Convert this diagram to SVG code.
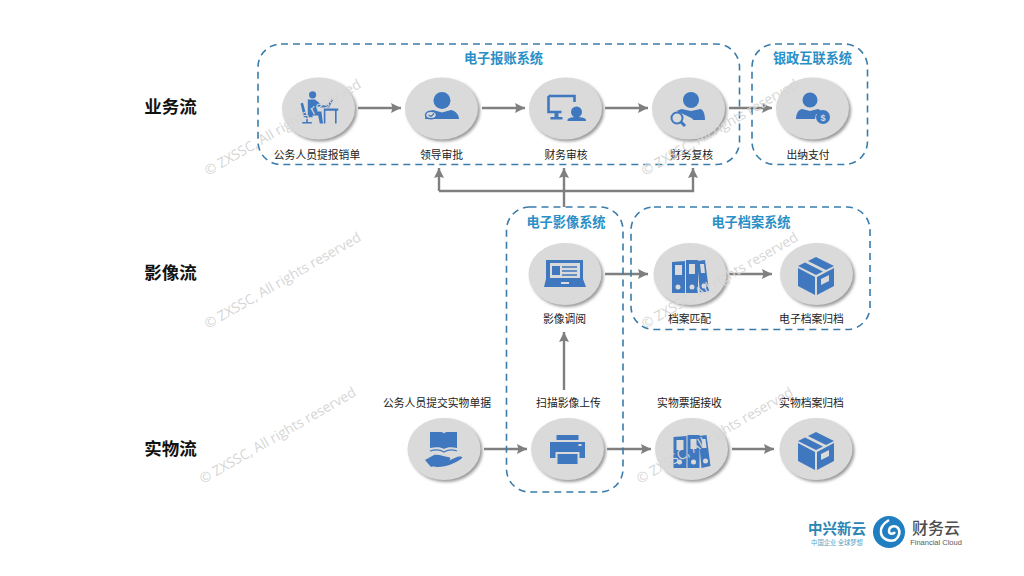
<svg xmlns="http://www.w3.org/2000/svg" xmlns:xlink="http://www.w3.org/1999/xlink" width="1024" height="576" viewBox="0 0 1024 576">
<style>
text{font-family:"Noto Sans CJK SC","Noto Sans",sans-serif;text-anchor:middle}
.lane{font-size:17.500px;font-weight:700;fill:#111}
.lab{font-size:10.800px;fill:#222}
.sys{font-size:13.200px;font-weight:700;fill:#2a8fc6}
.box{fill:none;stroke:#3a7cac;stroke-width:1.600;stroke-dasharray:7 5}
.con{fill:none;stroke:#7f7f7f;stroke-width:2.400}
.disc{fill:#dadada}
.sh{fill:#9a9a9a;filter:url(#blur)}
.ic{fill:#3f78bf}
.icw{fill:#dadada}
.icl{fill:none;stroke:#3f78bf}
.wm{font-family:"Open Sans",sans-serif;font-size:13.800px;fill:#d6d6d6;text-anchor:start}
</style>
<defs>
<filter id="blur" x="-20%" y="-20%" width="140%" height="140%"><feGaussianBlur stdDeviation="1.600"/></filter>
<marker id="ah" markerUnits="userSpaceOnUse" markerWidth="12" markerHeight="12" refX="10" refY="5" orient="auto"><path d="M0 0L10 5L0 10L1.500 5Z" fill="#7f7f7f"/></marker>
<g id="disc"><ellipse class="sh" cx="2" cy="2" rx="36.500" ry="31"/><ellipse class="disc" rx="36.500" ry="31"/></g>
<g id="binders">
<path class="ic" d="M-18-14L-5-15V17H-18ZM-4-16H8V17H-4ZM7-15L15-16L19 15L10 17Z"/>
<path class="icw" d="M-15-11H-8V-1H-15ZM-1-12H5V-2H-1ZM10-12L14-12L15-3L11-3Z"/>
<circle class="icw" cx="-12" cy="11" r="2.500"/><circle class="icw" cx="2" cy="11" r="2.500"/><circle class="icw" cx="14" cy="10" r="2.500"/>
</g>
<g id="box">
<path class="ic" d="M0-19L18-10L10-6L-8-15ZM-11-13.500L7-4.500L0-1L-18-10Z"/>
<path class="ic" d="M-18-8L-1 1V19L-18 10Z"/>
<path class="ic" d="M1 1L18-8V10L1 19Z"/>
<path class="icw" d="M5 3L13-1V5L5 9Z"/>
</g>
</defs>

<g id="connectors">
<path class="con" marker-end="url(#ah)" d="M358 108H401"/>
<path class="con" marker-end="url(#ah)" d="M482 108H525"/>
<path class="con" marker-end="url(#ah)" d="M605 108H648"/>
<path class="con" marker-end="url(#ah)" d="M729 108H772"/>
<path class="con" marker-end="url(#ah)" d="M439 191V168"/>
<path class="con" marker-end="url(#ah)" d="M564 207V168"/>
<path class="con" marker-end="url(#ah)" d="M439 191H693V168"/>
<path class="con" marker-end="url(#ah)" d="M605 274H648"/>
<path class="con" marker-end="url(#ah)" d="M729 274H772"/>
<path class="con" marker-end="url(#ah)" d="M564 390V332"/>
<path class="con" marker-end="url(#ah)" d="M484 449H527"/>
<path class="con" marker-end="url(#ah)" d="M607 449H651"/>
<path class="con" marker-end="url(#ah)" d="M732 449H774"/>
</g>

<g id="lanes">
<text class="lane" x="170.500" y="113">业务流</text>
<text class="lane" x="170.500" y="279">影像流</text>
<text class="lane" x="170.500" y="455">实物流</text>
</g>

<g id="sys-expense"><rect class="box" x="258" y="44" width="481.500" height="120.500" rx="23"/><text class="sys" x="503.500" y="63">电子报账系统</text></g>
<g id="sys-bank"><rect class="box" x="752" y="44" width="115.500" height="120.500" rx="23"/><text class="sys" x="812.500" y="63">银政互联系统</text></g>
<g id="sys-image"><rect class="box" x="506.500" y="207" width="116.500" height="285" rx="23"/><text class="sys" x="566" y="227">电子影像系统</text></g>
<g id="sys-archive"><rect class="box" x="631" y="207" width="239" height="122.500" rx="23"/><text class="sys" x="751" y="227">电子档案系统</text></g>

<g id="n-submit"><use xlink:href="#disc" href="#disc" x="318.500" y="108.500"/>
<g transform="translate(315,110) scale(.8)">
<circle class="ic" cx="-3" cy="-19" r="4.500"/>
<path class="ic" d="M-9-13H0L9-6L18-5V-3L7-3L3-5V2H8L10 17H6L4 7H-9Z"/>
<path class="ic" d="M-18-8L-15-9L-11 6H-3V9H-9V15H-4V17H-16V15H-11V9H-14Z"/>
<path class="ic" d="M11-2H29V1H27V17H25V1H13V17H11Z"/>
<path class="ic" d="M14-4L21-14L23-13L18-4Z"/>
</g><text class="lab" x="317" y="159">公务人员提报销单</text></g>

<g id="n-leader"><use xlink:href="#disc" href="#disc" x="441.500" y="108.500"/>
<g transform="translate(442,108)">
<circle class="ic" cx="0" cy="-7.500" r="8.500"/>
<path class="ic" d="M-9 2L0 4.500L9 2C14 3 17 7 17 11H-17C-17 7-13 3-9 2Z"/>
<ellipse cx="-11" cy="7" rx="5.500" ry="3.800" fill="#dadada" stroke="#3f78bf" stroke-width="1.500"/>
<path class="icl" d="M-13.500 7L-11 8.500L-8 5.500" stroke-width="1.300"/>
</g><text class="lab" x="441.500" y="159">领导审批</text></g>

<g id="n-finreview"><use xlink:href="#disc" href="#disc" x="565.500" y="108.500"/>
<g transform="translate(565.500,108)">
<path class="icl" stroke-width="2.600" d="M-17-12H9V-6M-17-12V4H-4"/>
<path class="ic" d="M-11 5H-7V9H-3V11.500H-15V9H-11Z"/>
<circle class="ic" cx="11" cy="4" r="5.500"/>
<path class="ic" d="M2 12C2 10 6 9 11 9C16 9 20.500 10 20.500 12V13H2Z"/>
</g><text class="lab" x="566" y="159">财务审核</text></g>

<g id="n-recheck"><use xlink:href="#disc" href="#disc" x="688.500" y="108.500"/>
<g transform="translate(688.500,108)">
<circle class="ic" cx="2.500" cy="-8" r="8"/>
<path class="ic" d="M-7 1L2.500 3L12 1C15 2 16.500 6 16.500 12H5L3 10L-12 3Z"/>
<circle cx="-11.500" cy="10" r="5.500" fill="#dadada" stroke="#3f78bf" stroke-width="2"/>
<path class="icl" stroke-width="3" d="M-7.500 14L-3.500 18"/>
</g><text class="lab" x="691.500" y="159">财务复核</text></g>

<g id="n-pay"><use xlink:href="#disc" href="#disc" x="812.500" y="108.500"/>
<g transform="translate(810,108)">
<circle class="ic" cx="0" cy="-8" r="7.500"/>
<path class="ic" d="M-8 1L0 3L8 1C11 2 13 4 13 6H6L5 11H-14C-14 6-12 2-8 1Z"/>
<circle class="ic" cx="13" cy="9" r="7"/>
<text x="13" y="12.500" style="font-size:9px;font-weight:700;fill:#dadada;font-family:'Liberation Sans',sans-serif">$</text>
</g><text class="lab" x="808" y="159">出纳支付</text></g>

<g id="n-view"><use xlink:href="#disc" href="#disc" x="565" y="274"/>
<g transform="translate(565,274)">
<path class="ic" d="M-19-14H18V5L21 13H-21L-19 5Z"/>
<rect class="icw" x="-15" y="-11" width="30" height="15"/>
<rect class="ic" x="-13" y="-8" width="8" height="9"/>
<path class="icl" stroke-width="1.300" d="M-3-7H12M-3-3H12M-3 1H12"/>
<rect class="icw" x="-4" y="8" width="8" height="2"/>
</g><text class="lab" x="564.500" y="323">影像调阅</text></g>

<g id="n-match"><use xlink:href="#disc" href="#disc" x="690" y="274"/><use xlink:href="#binders" href="#binders" x="690" y="276"/><text class="lab" x="689.500" y="323">档案匹配</text></g>
<g id="n-earchive"><use xlink:href="#disc" href="#disc" x="816.500" y="274"/><use xlink:href="#box" href="#box" x="816" y="276"/><text class="lab" x="811.500" y="323">电子档案归档</text></g>

<g id="n-paper"><use xlink:href="#disc" href="#disc" x="444" y="449"/>
<g transform="translate(444,449)">
<path class="ic" d="M-14-17H-3C-1-17 0-16 0-15C0-16 1-17 3-17H13V-1C8-2 3-2 0 0C-3-2-8-2-14-1Z"/>
<path class="icl" stroke-width="1.200" d="M-14 2C-8 0-3 1 0 3C3 1 8 0 13 2"/>
<path class="ic" d="M-19 11L-10 6C-5 5 0 8 4 8C7 8 7 11 4 12L13 8C17 7 20 8 17 10C11 14 3 18-6 18C-9 18-11 17-13 18Z"/>
</g><text class="lab" x="437" y="407">公务人员提交实物单据</text></g>

<g id="n-scan"><use xlink:href="#disc" href="#disc" x="567.500" y="449"/>
<g transform="translate(567.500,449)">
<rect class="ic" x="-11" y="-14" width="22" height="5"/>
<path class="ic" d="M-17.500-7H17.500V9H12V3H-12V9H-17.500Z"/>
<rect class="ic" x="-10" y="5" width="20" height="10"/>
<rect class="icw" x="11" y="-5" width="3" height="2"/>
</g><text class="lab" x="568.500" y="407">扫描影像上传</text></g>

<g id="n-receive"><use xlink:href="#disc" href="#disc" x="691.500" y="449"/><use xlink:href="#binders" href="#binders" x="691.500" y="451"/><text class="lab" x="689.500" y="407">实物票据接收</text></g>
<g id="n-parchive"><use xlink:href="#disc" href="#disc" x="816" y="449"/><use xlink:href="#box" href="#box" x="816" y="451"/><text class="lab" x="811.500" y="407">实物档案归档</text></g>

<g id="logo">
<text x="837" y="533.500" style="font-size:14.500px;font-weight:700;fill:#2a86b5">中兴新云</text>
<text x="837" y="545" style="font-size:6.300px;fill:#5b9fc4">中国企业 全球梦想</text>
<circle cx="889" cy="532" r="16" fill="#1f7fc0"/>
<path d="M889 520C884 523 880 527 881 533C882 539 889 542 895 540C899 537 901 532 898 528C895 525 889 526 889 531C889 534 893 535 895 532" fill="none" stroke="#fff" stroke-width="2.500"/>
<text x="936" y="534" style="font-size:16px;font-weight:500;fill:#4d4d4d">财务云</text>
<text x="936" y="545" style="font-size:7.500px;fill:#5a5a5a;font-family:'Liberation Sans',sans-serif">Financial Cloud</text>
</g>

<g id="watermarks">
<text class="wm" transform="translate(208,176) rotate(-30)">© ZXSSC, All rights reserved</text>
<text class="wm" transform="translate(645,176) rotate(-30)">© ZXSSC, All rights reserved</text>
<text class="wm" transform="translate(208,329) rotate(-30)">© ZXSSC, All rights reserved</text>
<text class="wm" transform="translate(645,329) rotate(-30)">© ZXSSC, All rights reserved</text>
<text class="wm" transform="translate(203,484) rotate(-30)">© ZXSSC, All rights reserved</text>
<text class="wm" transform="translate(640,484) rotate(-30)">© ZXSSC, All rights reserved</text>
</g>
</svg>
